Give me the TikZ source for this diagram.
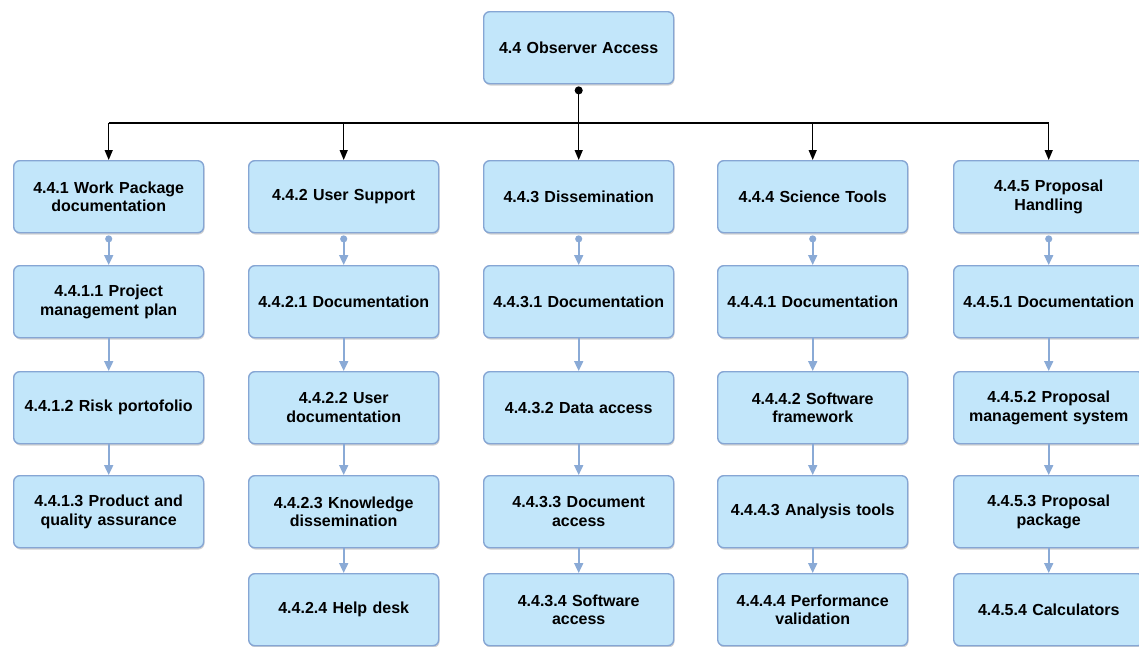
\documentclass[tikz,border=0pt]{standalone}
\usepackage{fontspec}
\setmainfont{Liberation Sans}
\usetikzlibrary{arrows.meta,shadows}
\definecolor{boxfill}{HTML}{C2E6FA}
\definecolor{boxline}{HTML}{86A6D4}
\definecolor{sublinkcol}{HTML}{8AAAD6}
\begin{document}
\begin{tikzpicture}[x=1pt,y=-1pt,
  box/.style={draw=boxline, line width=1.4pt, fill=boxfill, rounded corners=6pt,
    minimum width=190pt, minimum height=72pt, inner sep=0pt, text width=182pt,
    align=center, anchor=north west,
    font=\bfseries\fontsize{16}{18.5}\selectfont,
    drop shadow={shadow xshift=0.8pt, shadow yshift=-1.8pt, opacity=0.35}},
  toplink/.style={draw=black, line width=1.3pt, -{Triangle[length=10pt,width=8pt]}},
  busline/.style={draw=black, line width=1.3pt},
  sublink/.style={draw=sublinkcol, line width=1.8pt, -{Triangle[length=10pt,width=9pt]}},
  subfirst/.style={sublink, {Circle[length=7pt]}-{Triangle[length=10pt,width=9pt]}}
]
\useasboundingbox (0,0) rectangle (1139,646);
\fill[white] (0,0) rectangle (1139,646);

\node[box] (top) at (483,11) {4.4 Observer Access};

% column headers
\node[box] (c1) at (13,160) {4.4.1 Work Package\\documentation};
\node[box] (c2) at (248,160) {4.4.2 User Support};
\node[box] (c3) at (483,160) {4.4.3 Dissemination};
\node[box] (c4) at (717,160) {4.4.4 Science Tools};
\node[box] (c5) at (953,160) {4.4.5 Proposal\\Handling};

% column 1
\node[box] (c11) at (13,265) {4.4.1.1 Project\\management plan};
\node[box] (c12) at (13,371) {4.4.1.2 Risk portofolio};
\node[box] (c13) at (13,475) {4.4.1.3 Product and\\quality assurance};

% column 2
\node[box] (c21) at (248,265) {4.4.2.1 Documentation};
\node[box] (c22) at (248,371) {4.4.2.2 User\\documentation};
\node[box] (c23) at (248,475) {4.4.2.3 Knowledge\\dissemination};
\node[box] (c24) at (248,573) {4.4.2.4 Help desk};

% column 3
\node[box] (c31) at (483,265) {4.4.3.1 Documentation};
\node[box] (c32) at (483,371) {4.4.3.2 Data access};
\node[box] (c33) at (483,475) {4.4.3.3 Document\\access};
\node[box] (c34) at (483,573) {4.4.3.4 Software\\access};

% column 4
\node[box] (c41) at (717,265) {4.4.4.1 Documentation};
\node[box] (c42) at (717,371) {4.4.4.2 Software\\framework};
\node[box] (c43) at (717,475) {4.4.4.3 Analysis tools};
\node[box] (c44) at (717,573) {4.4.4.4 Performance\\validation};

% column 5
\node[box] (c51) at (953,265) {4.4.5.1 Documentation};
\node[box] (c52) at (953,371) {4.4.5.2 Proposal\\management system};
\node[box] (c53) at (953,475) {4.4.5.3 Proposal\\package};
\node[box] (c54) at (953,573) {4.4.5.4 Calculators};

% top-level connectors
\coordinate (bus) at (578,123);
\draw[busline] (c1.north |- bus) -- (c5.north |- bus);
\draw[toplink, {Circle[length=8pt]}-{Triangle[length=10pt,width=8pt]}] ([yshift=-2pt]top.south) -- (c3.north);
\draw[toplink] (c1.north |- bus) -- (c1.north);
\draw[toplink] (c2.north |- bus) -- (c2.north);
\draw[toplink] (c4.north |- bus) -- (c4.north);
\draw[toplink] (c5.north |- bus) -- (c5.north);

% sub connectors
\draw[subfirst] ([yshift=-2pt]c1.south) -- (c11.north);
\draw[sublink] (c11.south) -- (c12.north);
\draw[sublink] (c12.south) -- (c13.north);

\draw[subfirst] ([yshift=-2pt]c2.south) -- (c21.north);
\draw[sublink] (c21.south) -- (c22.north);
\draw[sublink] (c22.south) -- (c23.north);
\draw[sublink] (c23.south) -- (c24.north);

\draw[subfirst] ([yshift=-2pt]c3.south) -- (c31.north);
\draw[sublink] (c31.south) -- (c32.north);
\draw[sublink] (c32.south) -- (c33.north);
\draw[sublink] (c33.south) -- (c34.north);

\draw[subfirst] ([yshift=-2pt]c4.south) -- (c41.north);
\draw[sublink] (c41.south) -- (c42.north);
\draw[sublink] (c42.south) -- (c43.north);
\draw[sublink] (c43.south) -- (c44.north);

\draw[subfirst] ([yshift=-2pt]c5.south) -- (c51.north);
\draw[sublink] (c51.south) -- (c52.north);
\draw[sublink] (c52.south) -- (c53.north);
\draw[sublink] (c53.south) -- (c54.north);
\end{tikzpicture}
\end{document}
